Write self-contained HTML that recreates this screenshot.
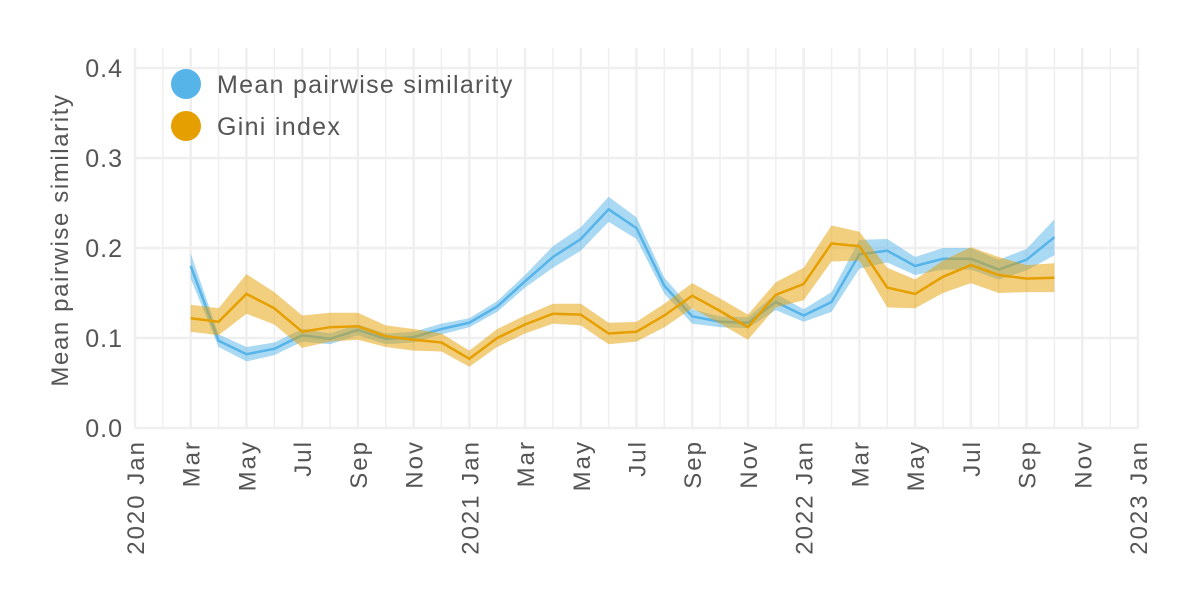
<!DOCTYPE html>
<html><head><meta charset="utf-8"><style>
body{margin:0;background:#fff;}
svg{display:block;font-family:"Liberation Sans",sans-serif;}
</style></head><body>
<svg id="chart" width="1200" height="600"></svg>
<script>
const months = ["2020-03","2020-04","2020-05","2020-06","2020-07","2020-08","2020-09","2020-10","2020-11","2020-12","2021-01","2021-02","2021-03","2021-04","2021-05","2021-06","2021-07","2021-08","2021-09","2021-10","2021-11","2021-12","2022-01","2022-02","2022-03","2022-04","2022-05","2022-06","2022-07","2022-08","2022-09","2022-10"];
const similarity = [0.18,0.097,0.082,0.088,0.103,0.099,0.109,0.099,0.101,0.11,0.117,0.135,0.163,0.19,0.21,0.243,0.222,0.158,0.124,0.118,0.117,0.14,0.125,0.14,0.193,0.197,0.18,0.188,0.188,0.176,0.187,0.212];
const similarityErr = [0.014,0.007,0.008,0.007,0.007,0.006,0.006,0.006,0.006,0.006,0.005,0.006,0.007,0.012,0.013,0.014,0.012,0.009,0.008,0.006,0.006,0.009,0.007,0.011,0.016,0.013,0.01,0.012,0.012,0.011,0.012,0.02];
const gini = [0.122,0.118,0.149,0.133,0.107,0.112,0.113,0.102,0.098,0.095,0.077,0.1,0.115,0.127,0.126,0.105,0.107,0.125,0.147,0.13,0.112,0.148,0.16,0.205,0.202,0.156,0.149,0.168,0.181,0.17,0.166,0.167];
const giniErr = [0.015,0.015,0.022,0.018,0.018,0.016,0.015,0.012,0.012,0.01,0.009,0.01,0.01,0.011,0.012,0.012,0.011,0.013,0.014,0.014,0.014,0.014,0.018,0.02,0.016,0.022,0.016,0.018,0.02,0.02,0.015,0.016];
const yTicks = [0,0.1,0.2,0.3,0.4];
const xTickLabels = ["2020 Jan","Mar","May","Jul","Sep","Nov","2021 Jan","Mar","May","Jul","Sep","Nov","2022 Jan","Mar","May","Jul","Sep","Nov","2023 Jan"];

const NS="http://www.w3.org/2000/svg";
const svg=document.getElementById('chart');
const X0=135,X1=1138,Y0=428,PT=48;
const mIdx=s=>{const [y,m]=s.split('-').map(Number);return (y-2020)*12+(m-1);};
const x=i=>X0+(X1-X0)*i/36;
const y=v=>Y0-v*900;
function el(t,a,p){const e=document.createElementNS(NS,t);for(const k in a)e.setAttribute(k,a[k]);(p||svg).appendChild(e);return e;}

for(let i=0;i<=36;i++){
  const g=el('line',{x1:x(i),x2:x(i),y1:PT,y2:Y0,stroke:'#efefef','stroke-width':i%2?1.5:2.5});
  
  
}
yTicks.forEach(v=>{
  const g=el('line',{x1:X0,x2:X1,y1:y(v),y2:y(v),stroke:'#efefef','stroke-width':2.5});
  
  
  const t=el('text',{x:123,y:y(v)+9,'text-anchor':'end','font-size':25,fill:'#555','letter-spacing':1});
  t.textContent=v.toFixed(1);
  
  
});
xTickLabels.forEach((l,k)=>{
  const px=x(k*2)+9;
  const t=el('text',{x:0,y:0,transform:`translate(${px},${440}) rotate(-90)`,'text-anchor':'end','font-size':24,fill:'#555','letter-spacing':2});
  t.textContent=l;
  
  
});
const yt=el('text',{x:0,y:0,transform:'translate(68,240) rotate(-90)','text-anchor':'middle','font-size':24,fill:'#555','letter-spacing':1.6});
yt.textContent='Mean pairwise similarity';



function series(vals,err,color,name){
  const xs=months.map(m=>x(mIdx(m)));
  let d='M'+xs.map((xx,i)=>xx+','+y(vals[i]+err[i])).join('L');
  for(let i=xs.length-1;i>=0;i--)d+='L'+xs[i]+','+y(vals[i]-err[i]);
  const b=el('path',{d:d+'Z',fill:color,opacity:0.5});
  
  
  const l=el('path',{d:'M'+xs.map((xx,i)=>xx+','+y(vals[i])).join('L'),fill:'none',stroke:color,'stroke-width':2.5});
  
  
}
series(similarity,similarityErr,'#56b4e9','similarity');
series(gini,giniErr,'#e69f00','gini');

[['#56b4e9','Mean pairwise similarity',84,'legend-similarity'],['#e69f00','Gini index',126,'legend-gini']].forEach(([c,l,yy,n])=>{
  const g=el('g',{});
  
  
  el('circle',{cx:186,cy:yy,r:15,fill:c},g);
  const t=el('text',{x:217,y:yy+9,'font-size':25,fill:'#555','letter-spacing':1.3},g);
  t.textContent=l;
});
</script>
</body></html>
